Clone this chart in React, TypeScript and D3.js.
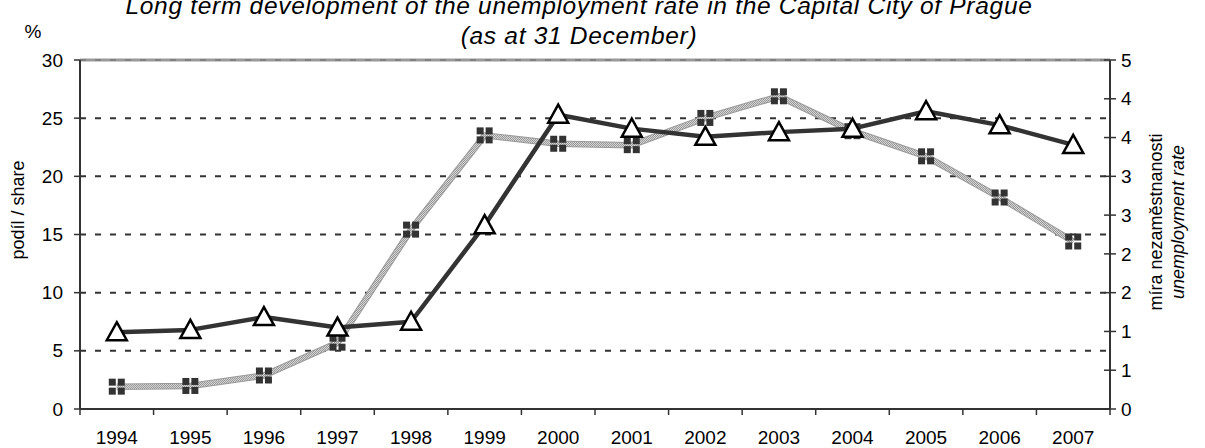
import React from "react";
import * as d3 from "d3";

// chart values
const years = ["1994", "1995", "1996", "1997", "1998", "1999", "2000", "2001", "2002", "2003", "2004", "2005", "2006", "2007"];
// podíl / share (%), left axis – triangles
const shareValues = [6.6, 6.8, 7.9, 7.0, 7.5, 15.8, 25.3, 24.1, 23.4, 23.8, 24.1, 25.6, 24.4, 22.7];
// míra nezaměstnanosti / unemployment rate, right axis – squares
const rateValues = [0.32, 0.33, 0.48, 0.95, 2.57, 3.92, 3.8, 3.78, 4.17, 4.48, 3.98, 3.62, 3.03, 2.4];
const leftTicks = [0, 5, 10, 15, 20, 25, 30];
const rightTickCount = 9;

const titleLines = ["Long term development of the unemployment rate in the Capital City of Prague", "(as at 31 December)"];

const W = 1205;
const H = 448;
const MARGIN = { top: 60, right: 95, bottom: 39, left: 80 };
const FONT = "'Liberation Sans', Arial, sans-serif";
const DARK = "#333";

const App = () => {
  const boundsWidth = W - MARGIN.left - MARGIN.right;
  const boundsHeight = H - MARGIN.top - MARGIN.bottom;

  const xScale = d3.scaleBand().domain(years).range([0, boundsWidth]).padding(0);
  const yLeft = d3.scaleLinear().domain([0, 30]).range([boundsHeight, 0]);
  const yRight = d3.scaleLinear().domain([0, 5]).range([boundsHeight, 0]);
  const rightTicks = d3.range(rightTickCount + 1).map((i) => (i * 5) / rightTickCount);
  const fmt = d3.format(".0f");

  const cx = (y) => xScale(y) + xScale.bandwidth() / 2;

  const shareLine = d3
    .line()
    .x((d, i) => cx(years[i]))
    .y((d) => yLeft(d));
  const rateLine = d3
    .line()
    .x((d, i) => cx(years[i]))
    .y((d) => yRight(d));

  const xEdges = years.map((y) => xScale(y)).concat([boundsWidth]);

  return (
    <svg width={W} height={H} style={{ position: "absolute", left: 0, top: 0, background: "#fff" }} fontFamily={FONT}>
      <defs>
        <pattern id="dither" width="2" height="2" patternUnits="userSpaceOnUse">
          <rect width="2" height="2" fill="#d4d4d4" />
          <rect width="1" height="1" fill="#999" />
          <rect x="1" y="1" width="1" height="1" fill="#999" />
        </pattern>
      </defs>

      {/* title */}
      <g fontStyle="italic" fontSize={24.5} letterSpacing={0.7} textAnchor="middle" fill="#000">
        <text x={579} y={14}>{titleLines[0]}</text>
        <text x={579} y={44}>{titleLines[1]}</text>
      </g>
      <text x={33} y={38} fontSize={19} textAnchor="middle">%</text>

      <g transform={`translate(${MARGIN.left},${MARGIN.top})`}>
        {/* grid */}
        <line x1={0} x2={boundsWidth} y1={yLeft(30)} y2={yLeft(30)} stroke="#999" strokeWidth={3} />
        {leftTicks.filter((t) => t > 0).map((t) => (
          <line key={t} x1={0} x2={boundsWidth} y1={yLeft(t)} y2={yLeft(t)}
            stroke={t === 30 ? "#666" : DARK} strokeWidth={t === 30 ? 1 : 2} strokeDasharray="6 9" />
        ))}

        {/* left axis */}
        <line x1={0} x2={0} y1={0} y2={boundsHeight} stroke={DARK} strokeWidth={2} />
        {leftTicks.map((t) => (
          <g key={t} transform={`translate(0,${yLeft(t)})`}>
            <line x1={-6} x2={0} stroke={DARK} strokeWidth={1.5} />
            <text x={-17} dy="0.35em" fontSize={19} textAnchor="end">{t}</text>
          </g>
        ))}
        <text transform={`translate(${18 - MARGIN.left},${210 - MARGIN.top}) rotate(-90)`} fontSize={18} textAnchor="middle" dy="0.35em">
          podíl / share
        </text>

        {/* bottom axis */}
        <line x1={0} x2={boundsWidth} y1={boundsHeight} y2={boundsHeight} stroke={DARK} strokeWidth={2} />
        {xEdges.map((x, i) => (
          <line key={i} x1={x} x2={x} y1={boundsHeight} y2={boundsHeight + 6} stroke={DARK} strokeWidth={1.5} />
        ))}
        {years.map((y) => (
          <text key={y} x={cx(y)} y={boundsHeight + 35} fontSize={19} textAnchor="middle">{y}</text>
        ))}

        {/* right axis */}
        <line x1={boundsWidth} x2={boundsWidth} y1={0} y2={boundsHeight} stroke={DARK} strokeWidth={2} />
        {rightTicks.map((t, i) => (
          <g key={i} transform={`translate(${boundsWidth},${yRight(t)})`}>
            <line x1={-6} x2={6} stroke={DARK} strokeWidth={1.5} />
            <text x={11} dy="0.35em" fontSize={19}>{fmt(t)}</text>
          </g>
        ))}
        <g transform={`translate(${1162 - MARGIN.left},${222 - MARGIN.top}) rotate(-90)`} fontSize={18} textAnchor="middle">
          <text y={0}>míra nezaměstnanosti</text>
          <text y={22} fontStyle="italic">unemployment rate</text>
        </g>

        {/* rate line (squares) */}
        <path d={rateLine(rateValues)} fill="none" stroke="#9a9a9a" strokeWidth={6.5} strokeLinejoin="round" />
        <path d={rateLine(rateValues)} fill="none" stroke="url(#dither)" strokeWidth={4.5} strokeLinejoin="round" />

        {/* share line (triangles) */}
        <path d={shareLine(shareValues)} fill="none" stroke={DARK} strokeWidth={4.5} strokeLinejoin="round" />

        {rateValues.map((v, i) => {
          const x = cx(years[i]);
          const y = yRight(v);
          return (
            <g key={"s" + i} transform={`translate(${x},${y})`} fill={DARK}>
              <rect x={-8} y={-8} width={7} height={7} />
              <rect x={1} y={-8} width={7} height={7} />
              <rect x={-8} y={1} width={7} height={7} />
              <rect x={1} y={1} width={7} height={7} />
            </g>
          );
        })}
        {shareValues.map((v, i) => {
          const x = cx(years[i]);
          const y = yLeft(v);
          return (
            <path key={"t" + i} transform={`translate(${x},${y})`} d="M0,-10 L10,8 L-10,8 Z"
              fill="#fff" stroke="#000" strokeWidth={2.5} strokeLinejoin="miter" />
          );
        })}
      </g>
    </svg>
  );
};

export default App;
